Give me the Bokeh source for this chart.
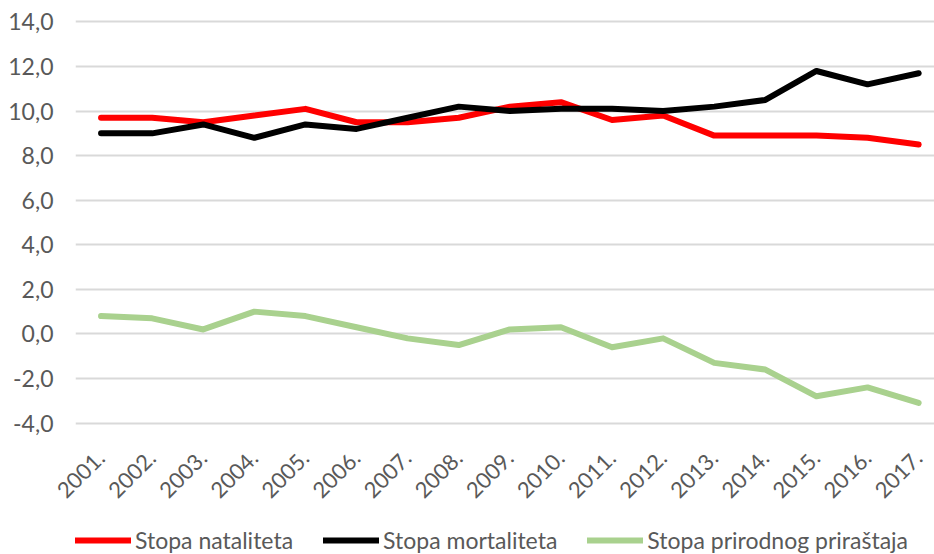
from bokeh.plotting import figure
from bokeh.layouts import column
from bokeh.models import FixedTicker, CustomJSTickFormatter, Legend, LegendItem, Range1d
from bokeh.embed import file_html
from bokeh.resources import INLINE
from math import pi

years = ["2001.", "2002.", "2003.", "2004.", "2005.", "2006.", "2007.", "2008.", "2009.",
         "2010.", "2011.", "2012.", "2013.", "2014.", "2015.", "2016.", "2017."]
natalitet = [9.7, 9.7, 9.5, 9.8, 10.1, 9.5, 9.5, 9.7, 10.2, 10.4, 9.6, 9.8, 8.9, 8.9, 8.9, 8.8, 8.5]
mortalitet = [9.0, 9.0, 9.4, 8.8, 9.4, 9.2, 9.7, 10.2, 10.0, 10.1, 10.1, 10.0, 10.2, 10.5, 11.8, 11.2, 11.7]
prirastaj = [0.8, 0.7, 0.2, 1.0, 0.8, 0.3, -0.2, -0.5, 0.2, 0.3, -0.6, -0.2, -1.3, -1.6, -2.8, -2.4, -3.1]
y_ticks = [-4, -2, 0, 2, 4, 6, 8, 10, 12, 14]
series_names = ["Stopa nataliteta", "Stopa mortaliteta", "Stopa prirodnog priraštaja"]
colors = ["#ff0000", "#000000", "#a9d18e"]

FONT = "Lato"
TXT = "#595959"

x = list(range(len(years)))
series = [natalitet, mortalitet, prirastaj]

p = figure(width=934, height=524, output_backend="svg", toolbar_location=None,
           x_range=Range1d(-0.5, 16.31), y_range=Range1d(-4.2, 14.2),
           min_border_left=75, min_border_right=0, min_border_top=17, min_border_bottom=97)
p.outline_line_color = None
p.background_fill_color = "white"
p.border_fill_color = "white"

for vals, c in zip(series, colors):
    p.line(x, vals, line_color=c, line_width=6, line_cap="round", line_join="round")

# y axis
p.yaxis.ticker = FixedTicker(ticks=y_ticks)
p.yaxis.formatter = CustomJSTickFormatter(code="return tick.toFixed(1).replace('.', ',');")
p.yaxis.axis_line_color = None
p.yaxis.major_tick_line_color = None
p.yaxis.minor_tick_line_color = None
p.yaxis.major_tick_out = 0
p.yaxis.major_tick_in = 0
p.yaxis.major_label_standoff = 22
p.yaxis.major_label_text_font = FONT
p.yaxis.major_label_text_font_size = "23px"
p.yaxis.major_label_text_color = TXT

# x axis
p.xaxis.ticker = FixedTicker(ticks=x)
p.xaxis.formatter = CustomJSTickFormatter(args=dict(labels=years),
                                          code="return labels[Math.round(tick)] || '';")
p.xaxis.axis_line_color = None
p.xaxis.major_tick_line_color = None
p.xaxis.minor_tick_line_color = None
p.xaxis.major_tick_out = 0
p.xaxis.major_tick_in = 0
p.xaxis.major_label_orientation = pi / 4
p.xaxis.major_label_standoff = 27
p.xaxis.major_label_text_font = FONT
p.xaxis.major_label_text_font_size = "22px"
p.xaxis.major_label_text_color = TXT

p.xgrid.grid_line_color = None
p.ygrid.ticker = FixedTicker(ticks=y_ticks)
p.ygrid.grid_line_color = "#d9d9d9"
p.ygrid.grid_line_width = 2

# legend strip below the chart (its lines sit outside the strip's visible range)
leg = figure(width=934, height=30, output_backend="svg", toolbar_location=None,
             x_range=Range1d(100, 101), y_range=Range1d(100, 101),
             min_border=0, min_border_left=0, min_border_right=0, min_border_top=0, min_border_bottom=0)
leg.axis.visible = False
leg.grid.visible = False
leg.outline_line_color = None
items = []
for name, vals, c in zip(series_names, series, colors):
    r = leg.line(x, vals, line_color=c, line_width=6, line_cap="round")
    items.append(LegendItem(label=name, renderers=[r]))
legend = Legend(items=items, orientation="horizontal", location=(0, 0),
                glyph_width=56, label_standoff=4, spacing=30,
                padding=0, margin=0,
                label_text_font=FONT, label_text_font_size="23px", label_text_color=TXT,
                border_line_color=None, background_fill_alpha=0)
leg.add_layout(legend)

layout = column(p, leg, spacing=0)
open("out.html", "w").write(file_html(layout, INLINE))
